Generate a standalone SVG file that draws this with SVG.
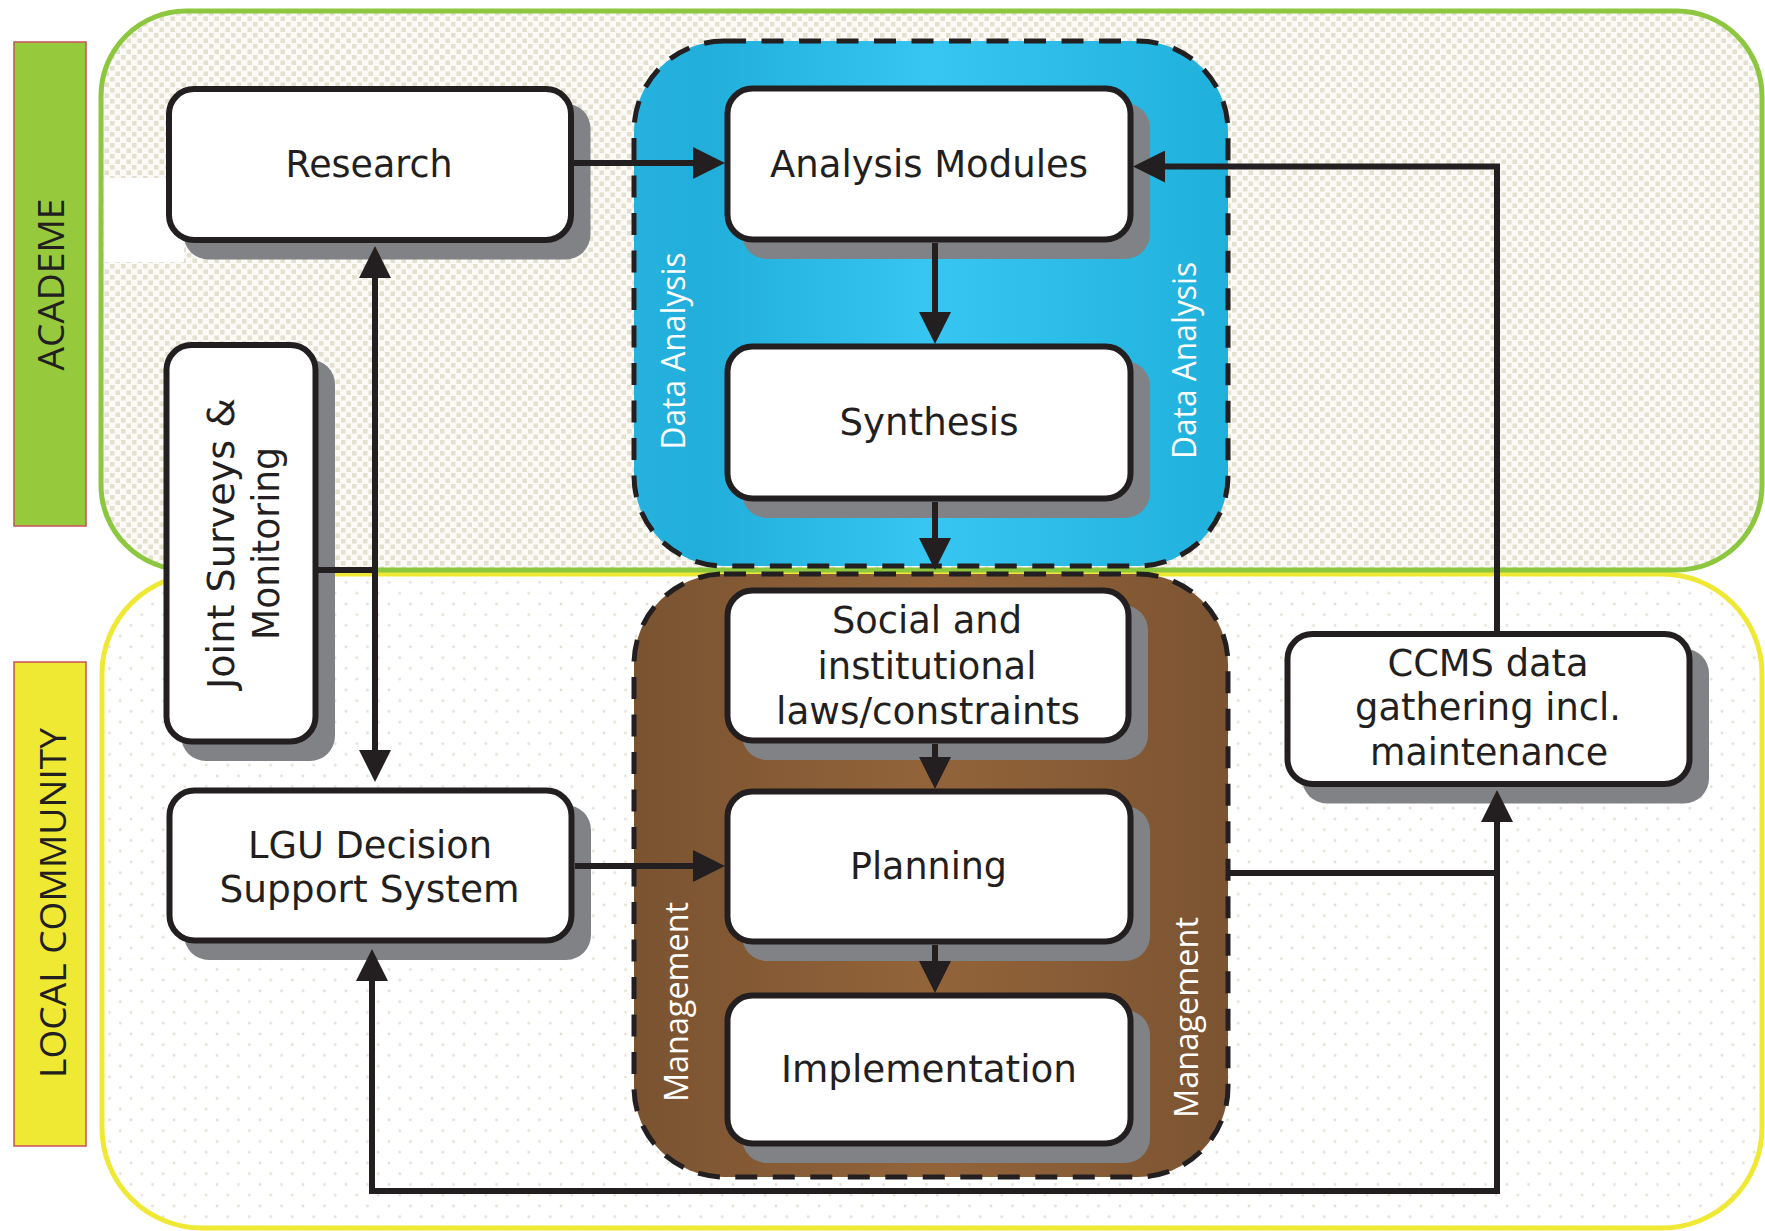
<svg xmlns="http://www.w3.org/2000/svg" width="1765" height="1231" viewBox="0 0 1765 1231">
<style>
.node{fill:#fff;stroke:#231f20;stroke-width:6}
.shadow{fill:#808285}
.t{font-family:"DejaVu Sans","Liberation Sans",sans-serif;font-size:37px;fill:#231f20;text-anchor:middle}
.lbl{font-family:"Open Sans","Liberation Sans",sans-serif;text-anchor:middle}
.w{fill:#fff;font-size:33px}
.side{fill:#231f20;font-size:37px}
.con{fill:none;stroke:#231f20;stroke-width:6;stroke-linejoin:miter}
.cont{stroke:#231f20;stroke-width:5;stroke-dasharray:22 15.5}
</style>
<defs>
<pattern id="pa" patternUnits="userSpaceOnUse" width="11" height="11">
<rect width="11" height="11" fill="#fbfaf6"/>
<rect x="0" y="0" width="4.5" height="4.5" fill="#e3e0cf"/>
<rect x="5.5" y="5.5" width="4.5" height="4.5" fill="#e3e0cf"/>
</pattern>
<pattern id="pl" patternUnits="userSpaceOnUse" width="21.5" height="21.5">
<rect width="21.5" height="21.5" fill="#fff"/>
<circle cx="2" cy="2" r="1.4" fill="#e4e0d0"/>
<circle cx="12.75" cy="12.75" r="1.4" fill="#e4e0d0"/>
</pattern>
<linearGradient id="gb" x1="0" y1="0" x2="1" y2="0">
<stop offset="0" stop-color="#27b2de"/>
<stop offset="0.12" stop-color="#21aedb"/>
<stop offset="0.5" stop-color="#36c6f1"/>
<stop offset="1" stop-color="#1fb0db"/>
</linearGradient>
<linearGradient id="gbr" x1="0" y1="0" x2="1" y2="0">
<stop offset="0" stop-color="#7a5331"/>
<stop offset="0.5" stop-color="#93643a"/>
<stop offset="1" stop-color="#7c5432"/>
</linearGradient>
<marker id="ah" markerUnits="userSpaceOnUse" markerWidth="32" markerHeight="32" viewBox="0 0 32 32" refX="22" refY="16" orient="auto-start-reverse">
<path d="M0,0 L32,16 L0,32 z" fill="#231f20"/>
</marker>
</defs>
<rect width="1765" height="1231" fill="#fff"/>

<g id="regions">
<rect id="local-region" x="102" y="574" width="1660" height="654" rx="100" fill="url(#pl)" stroke="#efe935" stroke-width="5"/>
<rect id="academe-region" x="101" y="11" width="1661" height="559" rx="85" fill="url(#pa)" stroke="#8dc63f" stroke-width="5"/>
<rect x="104" y="178" width="80" height="84" fill="#fff"/>
</g>

<g id="academe-label">
<rect x="14" y="42" width="72" height="484" fill="#97c93d" stroke="#c9505a" stroke-width="1.5"/>
<text class="lbl side" transform="translate(64,284.5) rotate(-90)" textLength="172" lengthAdjust="spacingAndGlyphs">ACADEME</text>
</g>
<g id="local-label">
<rect x="14" y="662" width="72" height="484" fill="#f0e934" stroke="#c9505a" stroke-width="1.5"/>
<text class="lbl side" transform="translate(66,903) rotate(-90)" textLength="350" lengthAdjust="spacingAndGlyphs">LOCAL COMMUNITY</text>
</g>

<g id="data-analysis">
<rect x="634" y="41" width="594" height="525" rx="90" fill="url(#gb)" class="cont"/>
<text class="lbl w" transform="translate(685,351) rotate(-90)" textLength="197" lengthAdjust="spacingAndGlyphs">Data Analysis</text>
<text class="lbl w" transform="translate(1196,360.5) rotate(-90)" textLength="197" lengthAdjust="spacingAndGlyphs">Data Analysis</text>
</g>
<g id="management">
<rect x="634" y="574" width="594" height="603" rx="90" fill="url(#gbr)" class="cont"/>
<text class="lbl w" transform="translate(688,1002) rotate(-90)" textLength="200" lengthAdjust="spacingAndGlyphs">Management</text>
<text class="lbl w" transform="translate(1198,1017.5) rotate(-90)" textLength="201" lengthAdjust="spacingAndGlyphs">Management</text>
</g>

<g id="research">
<rect class="shadow" x="183.5" y="103.5" width="407" height="156" rx="25"/>
<rect class="node" x="169" y="89" width="402" height="151" rx="25"/>
<text class="t" x="369" y="177" textLength="167" lengthAdjust="spacingAndGlyphs">Research</text>
</g>
<g id="analysis-modules">
<rect class="shadow" x="742" y="103" width="408" height="156" rx="25"/>
<rect class="node" x="727.5" y="88.5" width="403" height="151" rx="25"/>
<text class="t" x="929" y="177" textLength="318" lengthAdjust="spacingAndGlyphs">Analysis Modules</text>
</g>
<g id="synthesis">
<rect class="shadow" x="742" y="361" width="408" height="157" rx="25"/>
<rect class="node" x="727.5" y="346.5" width="403" height="152" rx="25"/>
<text class="t" x="929" y="435" textLength="179" lengthAdjust="spacingAndGlyphs">Synthesis</text>
</g>
<g id="social">
<rect class="shadow" x="742" y="605" width="406" height="155" rx="25"/>
<rect class="node" x="727.5" y="590.5" width="401" height="150" rx="25"/>
<text class="t" x="927" y="633" textLength="190" lengthAdjust="spacingAndGlyphs">Social and</text>
<text class="t" x="927" y="679" textLength="219" lengthAdjust="spacingAndGlyphs">institutional</text>
<text class="t" x="928" y="724" textLength="304" lengthAdjust="spacingAndGlyphs">laws/constraints</text>
</g>
<g id="planning">
<rect class="shadow" x="742" y="806" width="408" height="155" rx="25"/>
<rect class="node" x="727.5" y="791.5" width="403" height="150" rx="25"/>
<text class="t" x="928.5" y="879" textLength="157" lengthAdjust="spacingAndGlyphs">Planning</text>
</g>
<g id="implementation">
<rect class="shadow" x="742" y="1010" width="408" height="153" rx="25"/>
<rect class="node" x="727.5" y="995.5" width="403" height="148" rx="25"/>
<text class="t" x="929" y="1082" textLength="296" lengthAdjust="spacingAndGlyphs">Implementation</text>
</g>
<g id="lgu">
<rect class="shadow" x="184" y="805" width="407" height="155" rx="25"/>
<rect class="node" x="169.5" y="790.5" width="402" height="150" rx="25"/>
<text class="t" x="370" y="857.5" textLength="244" lengthAdjust="spacingAndGlyphs">LGU Decision</text>
<text class="t" x="369.5" y="902" textLength="300" lengthAdjust="spacingAndGlyphs">Support System</text>
</g>
<g id="joint-surveys">
<rect class="shadow" x="181" y="359.5" width="154" height="401.5" rx="25"/>
<rect class="node" x="166.5" y="345" width="149" height="396.5" rx="25"/>
<g transform="translate(234,543.5) rotate(-90)">
<text class="t" x="0" y="0" textLength="291" lengthAdjust="spacingAndGlyphs">Joint Surveys &amp;</text>
<text class="t" x="0" y="45" textLength="193" lengthAdjust="spacingAndGlyphs">Monitoring</text>
</g>
</g>
<g id="ccms">
<rect class="shadow" x="1302" y="648.5" width="407" height="155" rx="25"/>
<rect class="node" x="1287.5" y="634" width="402" height="150" rx="25"/>
<text class="t" x="1488" y="676" textLength="201" lengthAdjust="spacingAndGlyphs">CCMS data</text>
<text class="t" x="1488" y="719.5" textLength="266" lengthAdjust="spacingAndGlyphs">gathering incl.</text>
<text class="t" x="1489" y="765" textLength="238" lengthAdjust="spacingAndGlyphs">maintenance</text>
</g>

<g id="connectors">
<path class="con" d="M574,163 H715" marker-end="url(#ah)"/>
<path class="con" d="M935,243 V334" marker-end="url(#ah)"/>
<path class="con" d="M935,502 V560" marker-end="url(#ah)"/>
<path class="con" d="M935,744 V779" marker-end="url(#ah)"/>
<path class="con" d="M935,945 V983" marker-end="url(#ah)"/>
<path class="con" d="M1497,631 V166.5 H1143" marker-end="url(#ah)"/>
<path class="con" d="M1226,873 H1497 V800" marker-end="url(#ah)"/>
<path class="con" d="M1497,873 V1191 H372 V959" marker-end="url(#ah)"/>
<path class="con" d="M575,866 H715" marker-end="url(#ah)"/>
<path class="con" d="M375,256 V772" marker-start="url(#ah)" marker-end="url(#ah)"/>
<path class="con" d="M318,570 H375"/>
</g>
</svg>
